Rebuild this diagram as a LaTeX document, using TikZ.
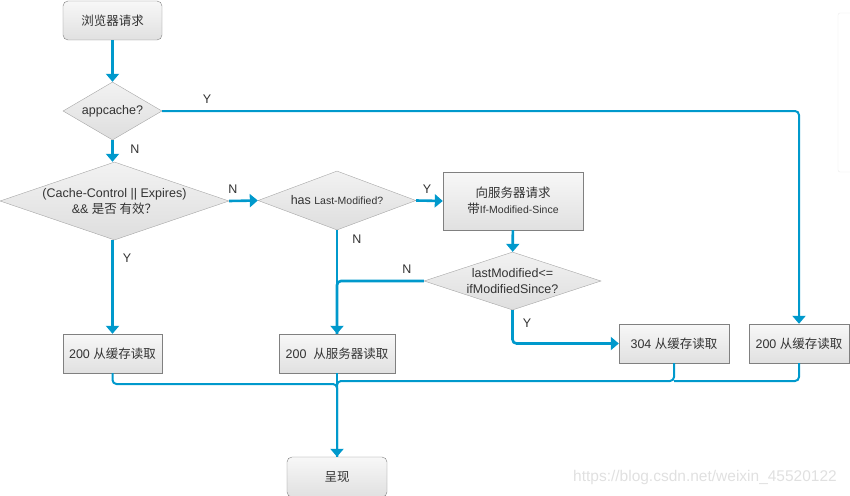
\documentclass[tikz,border=0pt]{standalone}
\usepackage{fontspec}
\setmainfont{Liberation Sans}
\newfontfamily\cjk{Noto Sans CJK SC}
\usetikzlibrary{shapes.geometric,arrows.meta,positioning}
\definecolor{flowblue}{RGB}{0,153,204}
\begin{document}
\begin{tikzpicture}[x=1pt,y=-1pt,font=\fontsize{12.5}{16}\selectfont,text=black!80,
  box/.style={draw=black!50,top color=black!3,bottom color=black!12,inner sep=0,minimum height=39pt},
  term/.style={box,rounded corners=5pt,minimum width=99pt},
  dec/.style={diamond,draw=black!35,top color=black!5,bottom color=black!13,inner sep=-4pt},
  flow/.style={draw=flowblue,line width=2.6pt,-{Triangle[width=13pt,length=8pt]}},
  link/.style={draw=flowblue,line width=2pt,rounded corners=4pt}]
 \useasboundingbox (0,0) rectangle (850,495);
 \draw[black!8,rounded corners=2pt] (838,13) rectangle (856,172);
 \node[term] (start) at (112.5,20.5) {{\cjk 浏览器请求}};
 \node[dec,aspect=1.71,minimum width=99pt,minimum height=58pt] (app) at (112.5,111) {appcache?};
 \node[dec,aspect=2.94,minimum width=229pt,minimum height=78pt,align=center] (cc) at (114.5,201)
    {(Cache-Control || Expires)\\\&\& {\cjk 是否 有效？}};
 \node[dec,aspect=2.68,minimum width=158pt,minimum height=59pt] (has) at (337,200.5)
    {has {\fontsize{10.5}{12}\selectfont Last-Modified?}};
 \node[box,minimum width=140pt,minimum height=58pt,align=center] (req) at (513,201)
    {{\cjk 向服务器请求}\\{\cjk 带}{\fontsize{10.5}{12}\selectfont If-Modified-Since}};
 \node[dec,aspect=3.05,minimum width=177pt,minimum height=58pt,align=center] (lm) at (512.5,281)
    {lastModified<=\\ifModifiedSince?};
 \node[box,minimum width=99pt] (l200) at (112.5,353.5) {200 {\cjk 从缓存读取}};
 \node[box,minimum width=116pt] (s200) at (337,353.5) {200 \ {\cjk 从服务器读取}};
 \node[box,minimum width=110pt] (b304) at (674,343.5) {304 {\cjk 从缓存读取}};
 \node[box,minimum width=100pt] (r200) at (799,343.5) {200 {\cjk 从缓存读取}};
 \node[term,minimum width=100pt,minimum height=40pt] (show) at (337,477) {{\cjk 呈现}};
 \coordinate (jl) at (337,384);
 \coordinate (jr) at (337,381);

 \draw[flow] (start) -- (app);
 \draw[flow,line width=2pt,rounded corners=4pt] (app.east) -| (r200.north);
 \draw[flow] (app.south) -- (app.south|-cc.north);
 \draw[flow] (cc.east) -- (has.west);
 \draw[flow] (l200.north|-cc.south) -- (l200.north);
 \draw[flow] (has.east) -- (req.west);
 \draw[flow] (has) -- (s200);
 \draw[flow] (req) -- (lm);
 \draw[link,line width=2.6pt] (lm.west) -| (s200.north);
 \draw[flow,rounded corners=4pt] (lm.south) |- (b304.west);
 \draw[link] (l200.south) |- (jl) -- (show.north);
 \draw[link] (b304.south) |- (jr) -- (show.north);
 \draw[link] (r200.south) |- (b304.south|-jr);
 \draw[flow] (s200) -- (show);

 \node (yapp) at (207,99) {Y};
 \node (napp) at (135,149) {N};
 \node (ncc) at (233,189) {N};
 \node (ycc) at (127,258) {Y};
 \node (yhas) at (427,189) {Y};
 \node (nhas) at (357,239) {N};
 \node (nlm) at (407,269) {N};
 \node (ylm) at (527,323) {Y};
 \node[text=black!12,font=\fontsize{15.5}{18}\selectfont] (mark) at (705,477) {https://blog.csdn.net/weixin\_45520122};
\end{tikzpicture}
\end{document}
